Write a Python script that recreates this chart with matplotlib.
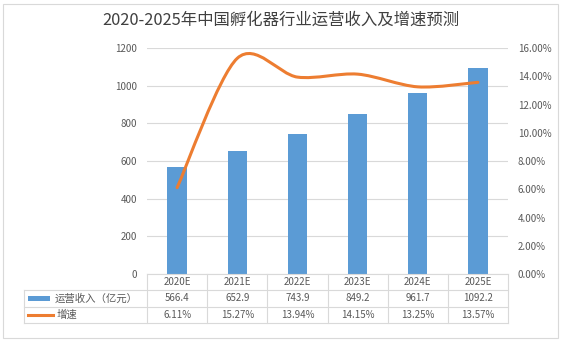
import numpy as np
import matplotlib
matplotlib.use('Agg')
from matplotlib import pyplot as plt
from matplotlib.path import Path
from matplotlib.patches import PathPatch, Rectangle
from matplotlib.lines import Line2D
from matplotlib.ticker import FuncFormatter, MultipleLocator

plt.rcParams['font.family'] = ['Noto Sans CJK SC', 'DejaVu Sans']

title = '2020-2025年中国孵化器行业运营收入及增速预测'
years = ['2020E', '2021E', '2022E', '2023E', '2024E', '2025E']
revenue = [566.4, 652.9, 743.9, 849.2, 961.7, 1092.2]
growth = [6.11, 15.27, 13.94, 14.15, 13.25, 13.57]
revenue_label = '运营收入（亿元）'
growth_label = '增速'

BLUE = '#5b9bd5'
ORANGE = '#ed7d31'
TEXT = '#595959'
GRID = '#d9d9d9'

W, H = 562, 342


def smooth_path(xs, ys):
    # Catmull-Rom through the points, as cubic bezier segments (Excel smoothed line)
    pts = np.column_stack([xs, ys]).astype(float)
    verts = [pts[0]]
    codes = [Path.MOVETO]
    n = len(pts)
    for i in range(n - 1):
        p0 = pts[i - 1] if i > 0 else pts[i]
        p1 = pts[i]
        p2 = pts[i + 1]
        p3 = pts[i + 2] if i + 2 < n else pts[i + 1]
        c1 = p1 + (p2 - p0) / 6.5
        c2 = p2 - (p3 - p1) / 6.5
        verts += [c1, c2, p2]
        codes += [Path.CURVE4] * 3
    return Path(verts, codes)


def main():
    fig = plt.figure(figsize=(W / 100, H / 100), dpi=100)
    left, right, top, bottom = 147, 508, 48, 274
    ax = fig.add_axes([left / W, 1 - bottom / H, (right - left) / W, (bottom - top) / H])
    ax2 = ax.twinx()

    x = np.arange(len(years))
    ax.bar(x, revenue, width=0.32, color=BLUE, zorder=2)
    ax.set_xlim(-0.5, len(years) - 0.5)
    ax.set_ylim(0, 1200)
    ax.yaxis.set_major_locator(MultipleLocator(200))
    ax.grid(axis='y', color=GRID, linewidth=0.8, zorder=0)
    ax.set_axisbelow(True)
    ax.set_xticks([])

    ax2.set_ylim(0, 16)
    ax2.yaxis.set_major_locator(MultipleLocator(2))
    ax2.yaxis.set_major_formatter(FuncFormatter(lambda v, p: '{:.2f}%'.format(v)))
    ax2.add_patch(PathPatch(smooth_path(x, growth), facecolor='none',
                            edgecolor=ORANGE, linewidth=2.2, capstyle='round', zorder=3))

    for a in (ax, ax2):
        for s in a.spines.values():
            s.set_visible(False)
        a.tick_params(axis='y', length=0, labelsize=7, labelcolor=TEXT, pad=7)

    fig.text(0.5, 1 - 20 / H, title, ha='center', va='center', fontsize=11.8, color='#404040')

    # data table under the axis
    row_h = 16.3 / (bottom - top)
    lab_x = (24 - left) / (right - left)
    tr = ax.get_xaxis_transform()
    line_kw = dict(color=GRID, linewidth=0.8, clip_on=False)
    ys = [0, -row_h, -2 * row_h, -3 * row_h]
    ax.add_line(Line2D([0, 1], [0, 0], transform=ax.transAxes, **line_kw))
    for y in ys[1:]:
        ax.add_line(Line2D([lab_x, 1], [y, y], transform=ax.transAxes, **line_kw))
    for b in np.arange(len(years) + 1) - 0.5:
        ax.add_line(Line2D([b, b], [0, ys[-1]], transform=tr, **line_kw))
    ax.add_line(Line2D([lab_x, lab_x], [ys[1], ys[-1]], transform=ax.transAxes, **line_kw))

    for i in range(len(years)):
        ax.text(x[i], -0.5 * row_h, years[i], transform=tr, ha='center', va='center',
                fontsize=7, color=TEXT)
        ax.text(x[i], -1.5 * row_h, '{:.1f}'.format(revenue[i]), transform=tr,
                ha='center', va='center', fontsize=7, color=TEXT)
        ax.text(x[i], -2.5 * row_h, '{:.2f}%'.format(growth[i]), transform=tr,
                ha='center', va='center', fontsize=7, color=TEXT)

    # legend keys inside the row label column
    px = 1.0 / (right - left)
    ax.add_patch(Rectangle((lab_x + 4 * px, -1.5 * row_h - 0.011), 22 * px, 0.022,
                           transform=ax.transAxes, facecolor=BLUE, clip_on=False))
    ax.add_line(Line2D([lab_x + 4 * px, lab_x + 29 * px], [-2.5 * row_h] * 2,
                       transform=ax.transAxes, color=ORANGE, linewidth=2.2, clip_on=False))
    ax.text(lab_x + 31 * px, -1.5 * row_h, revenue_label, transform=ax.transAxes,
            ha='left', va='center', fontsize=7.5, color=TEXT)
    ax.text(lab_x + 33 * px, -2.5 * row_h, growth_label, transform=ax.transAxes,
            ha='left', va='center', fontsize=7.5, color=TEXT)

    # chart border
    fig.patches.append(Rectangle((3 / W, 4 / H), (W - 7) / W, (H - 8) / H,
                                 transform=fig.transFigure, facecolor='none',
                                 edgecolor=GRID, linewidth=0.8))

    fig.savefig('out.png', dpi=100)


if __name__ == '__main__':
    main()
